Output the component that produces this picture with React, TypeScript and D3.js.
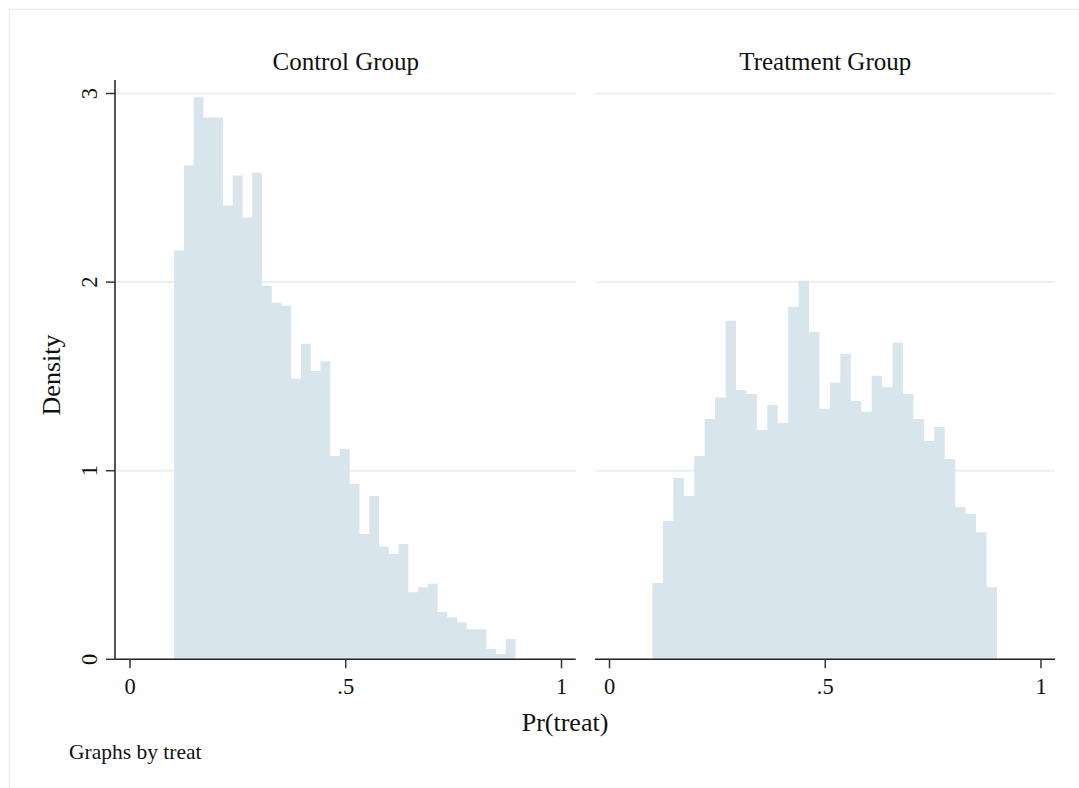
import React from 'react';
import * as d3 from 'd3';

// propensity score histograms
const controlDensity = [
  2.167, 2.618, 2.98, 2.873, 2.873, 2.406, 2.565, 2.342, 2.58, 1.98,
  1.89, 1.875, 1.487, 1.673, 1.529, 1.58, 1.078, 1.115, 0.929, 0.664,
  0.866, 0.598, 0.558, 0.611, 0.356, 0.382, 0.4, 0.251, 0.223, 0.196,
  0.159, 0.159, 0.055, 0.028, 0.108,
];
const controlRange = [0.1024, 0.8935];

const treatDensity = [
  0.404, 0.733, 0.961, 0.866, 1.078, 1.274, 1.388, 1.795, 1.428, 1.407,
  1.216, 1.349, 1.253, 1.869, 2.007, 1.736, 1.329, 1.466, 1.62, 1.37,
  1.312, 1.503, 1.444, 1.678, 1.407, 1.274, 1.158, 1.232, 1.062, 0.807,
  0.77, 0.674, 0.382,
];
const treatRange = [0.0995, 0.898];

const panelTitles = ['Control Group', 'Treatment Group'];
const xTicks = [0, 0.5, 1];
const xTickLabels = ['0', '.5', '1'];
const yTicks = [0, 1, 2, 3];
const yTickLabels = ['0', '1', '2', '3'];

const FONT = '"Liberation Serif", "Times New Roman", serif';
const BAR = '#d9e5ec';
const GRID = '#eaf1f3';

const W = 1079;
const H = 788;
const top = 80;
const bottom = 659.3;

const panels = [
  { title: panelTitles[0], data: controlDensity, range: controlRange, left: 115, right: 575.7, x0: 130, x1: 561.5 },
  { title: panelTitles[1], data: treatDensity, range: treatRange, left: 595, right: 1055, x0: 609.5, x1: 1041 },
];

const y = d3.scaleLinear().domain([0, 3]).range([bottom, 93.5]);

function Panel({ p, first }: { p: typeof panels[0]; first: boolean }) {
  const x = d3.scaleLinear().domain([0, 1]).range([p.x0, p.x1]);
  const n = p.data.length;
  const step = (p.range[1] - p.range[0]) / n;
  // each bin as [left edge, density]; repeat the last one at the right edge
  const pts: [number, number][] = d3.range(n + 1).map((i) => [p.range[0] + i * step, p.data[Math.min(i, n - 1)]]);
  const area = d3
    .area<[number, number]>()
    .x((d) => x(d[0]))
    .y0(y(0))
    .y1((d) => y(d[1]))
    .curve(d3.curveStepAfter);
  return (
    <g>
      {yTicks.filter((t) => t > 0).map((t) => (
        <line key={t} x1={p.left} x2={p.right} y1={y(t)} y2={y(t)} stroke={GRID} strokeWidth={2} />
      ))}
      <path d={area(pts) || ''} fill={BAR} />
      <line x1={p.left} x2={p.right} y1={bottom} y2={bottom} stroke="#222" strokeWidth={1.5} />
      {xTicks.map((t, i) => (
        <g key={t}>
          <line x1={x(t)} x2={x(t)} y1={bottom} y2={bottom + 9} stroke="#333" strokeWidth={1.5} />
          <text x={x(t)} y={694} textAnchor="middle" fontSize={22.5} fontFamily={FONT} fill="#111">
            {xTickLabels[i]}
          </text>
        </g>
      ))}
      <text x={(p.x0 + p.x1) / 2} y={69.5} textAnchor="middle" fontSize={25} fontFamily={FONT} fill="#111">
        {p.title}
      </text>
      {first && (
        <g>
          <line x1={p.left} x2={p.left} y1={top} y2={bottom} stroke="#555" strokeWidth={2} />
          {yTicks.map((t, i) => (
            <g key={t}>
              <line x1={p.left - 9} x2={p.left} y1={y(t)} y2={y(t)} stroke="#333" strokeWidth={1.5} />
              <text
                transform={`translate(97,${y(t)}) rotate(-90)`}
                textAnchor="middle"
                fontSize={22.5}
                fontFamily={FONT}
                fill="#111"
              >
                {yTickLabels[i]}
              </text>
            </g>
          ))}
        </g>
      )}
    </g>
  );
}

export default function App() {
  return (
    <div style={{ position: 'absolute', left: 0, top: 0 }}>
      <svg width={W} height={H} style={{ display: 'block', background: '#fff' }}>
        <rect x={9.5} y={9.5} width={1200} height={900} fill="none" stroke="#e6eef1" strokeWidth={1.5} />
        {panels.map((p, i) => (
          <Panel key={p.title} p={p} first={i === 0} />
        ))}
        <text transform="translate(60,375) rotate(-90)" textAnchor="middle" fontSize={26} fontFamily={FONT} fill="#111">
          Density
        </text>
        <text x={565} y={731} textAnchor="middle" fontSize={26} fontFamily={FONT} fill="#111">
          Pr(treat)
        </text>
        <text x={69} y={759} fontSize={21.5} fontFamily={FONT} fill="#111">
          Graphs by treat
        </text>
      </svg>
    </div>
  );
}
